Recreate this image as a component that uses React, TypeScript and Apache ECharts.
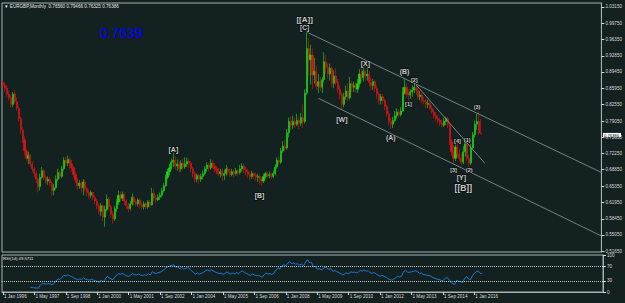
import React, { useEffect, useRef } from "react";
import * as echarts from "echarts";

// ---------- data ----------
const FIRST_OPEN = 0.872;
const CLOSE = [
  0.866, 0.86, 0.848, 0.84, 0.826, 0.848, 0.832, 0.818, 0.796, 0.772, 0.752, 0.728,
  0.712, 0.718, 0.7, 0.69, 0.68, 0.668, 0.652, 0.672, 0.686, 0.672, 0.664, 0.668,
  0.66, 0.644, 0.65, 0.668, 0.682, 0.674, 0.69, 0.708, 0.702, 0.71, 0.7, 0.692,
  0.678, 0.666, 0.654, 0.66, 0.65, 0.662, 0.648, 0.64, 0.634, 0.64, 0.63, 0.622,
  0.612, 0.6, 0.612, 0.588, 0.604, 0.626, 0.61, 0.594, 0.584, 0.606, 0.62, 0.634,
  0.628, 0.636, 0.622, 0.612, 0.606, 0.616, 0.63, 0.62, 0.616, 0.624, 0.614, 0.61,
  0.616, 0.61, 0.62, 0.614, 0.638, 0.628, 0.624, 0.63, 0.634, 0.644, 0.654, 0.672,
  0.684, 0.692, 0.704, 0.708, 0.696, 0.7, 0.69, 0.702, 0.694, 0.7, 0.706, 0.702,
  0.69, 0.68, 0.668, 0.676, 0.668, 0.674, 0.68, 0.69, 0.698, 0.692, 0.702, 0.696,
  0.69, 0.686, 0.68, 0.684, 0.676, 0.68, 0.69, 0.684, 0.678, 0.684, 0.68, 0.686,
  0.682, 0.69, 0.696, 0.688, 0.684, 0.678, 0.674, 0.68, 0.676, 0.672, 0.674, 0.668,
  0.664, 0.674, 0.68, 0.676, 0.678, 0.674, 0.68, 0.694, 0.708, 0.704, 0.728, 0.738,
  0.734, 0.766, 0.79, 0.782, 0.79, 0.784, 0.792, 0.786, 0.798, 0.79, 0.85, 0.944,
  0.92, 0.93, 0.888, 0.896, 0.864, 0.874, 0.862, 0.878, 0.916, 0.904, 0.89, 0.902,
  0.87, 0.886, 0.872, 0.858, 0.846, 0.826, 0.842, 0.854, 0.84, 0.87, 0.862, 0.866,
  0.858, 0.87, 0.89, 0.882, 0.896, 0.886, 0.89, 0.872, 0.866, 0.874, 0.86, 0.848,
  0.834, 0.842, 0.834, 0.822, 0.806, 0.79, 0.784, 0.792, 0.802, 0.81, 0.804, 0.812,
  0.85, 0.862, 0.848, 0.846, 0.852, 0.856, 0.862, 0.856, 0.842, 0.846, 0.834, 0.832,
  0.826, 0.828, 0.818, 0.81, 0.802, 0.796, 0.792, 0.786, 0.782, 0.79, 0.796, 0.784,
  0.748, 0.726, 0.712, 0.736, 0.722, 0.712, 0.704, 0.726, 0.744, 0.712, 0.702, 0.734,
  0.762, 0.784, 0.79, 0.7656, 0.76386,
];
const HIGH = [
  0.878, 0.872, 0.866, 0.856, 0.846, 0.852, 0.856, 0.84, 0.822, 0.8, 0.778, 0.758,
  0.732, 0.726, 0.722, 0.706, 0.694, 0.686, 0.672, 0.68, 0.694, 0.69, 0.676, 0.674,
  0.672, 0.664, 0.658, 0.676, 0.69, 0.688, 0.696, 0.714, 0.716, 0.718, 0.714, 0.708,
  0.696, 0.684, 0.67, 0.666, 0.664, 0.668, 0.666, 0.652, 0.646, 0.644, 0.642, 0.634,
  0.626, 0.616, 0.618, 0.614, 0.612, 0.636, 0.63, 0.614, 0.6, 0.612, 0.626, 0.644,
  0.642, 0.642, 0.64, 0.626, 0.618, 0.622, 0.638, 0.632, 0.626, 0.628, 0.628, 0.62,
  0.622, 0.62, 0.624, 0.624, 0.65, 0.646, 0.634, 0.636, 0.64, 0.65, 0.66, 0.678,
  0.69, 0.7, 0.712, 0.724, 0.716, 0.71, 0.706, 0.708, 0.712, 0.714, 0.714, 0.712,
  0.706, 0.694, 0.684, 0.68, 0.68, 0.68, 0.686, 0.696, 0.704, 0.702, 0.71, 0.708,
  0.702, 0.696, 0.692, 0.69, 0.69, 0.688, 0.698, 0.694, 0.69, 0.69, 0.688, 0.692,
  0.69, 0.698, 0.702, 0.7, 0.694, 0.69, 0.684, 0.686, 0.684, 0.682, 0.68, 0.678,
  0.672, 0.68, 0.684, 0.684, 0.684, 0.682, 0.686, 0.7, 0.714, 0.716, 0.734, 0.748,
  0.752, 0.774, 0.798, 0.8, 0.802, 0.798, 0.806, 0.8, 0.808, 0.826, 0.858, 0.978,
  0.966, 0.952, 0.944, 0.924, 0.908, 0.89, 0.884, 0.884, 0.936, 0.93, 0.912, 0.912,
  0.906, 0.898, 0.902, 0.88, 0.866, 0.852, 0.85, 0.866, 0.87, 0.884, 0.876, 0.874,
  0.872, 0.88, 0.9, 0.91, 0.906, 0.902, 0.908, 0.896, 0.884, 0.88, 0.878, 0.866,
  0.852, 0.848, 0.848, 0.838, 0.826, 0.812, 0.798, 0.8, 0.812, 0.818, 0.816, 0.82,
  0.862, 0.88, 0.87, 0.858, 0.858, 0.866, 0.874, 0.866, 0.862, 0.854, 0.852, 0.842,
  0.838, 0.836, 0.834, 0.824, 0.816, 0.81, 0.804, 0.798, 0.794, 0.798, 0.8, 0.8,
  0.786, 0.752, 0.74, 0.744, 0.746, 0.732, 0.722, 0.738, 0.75, 0.748, 0.718, 0.742,
  0.768, 0.792, 0.806, 0.812, 0.79466,
];
const LOW = [
  0.86, 0.852, 0.842, 0.834, 0.82, 0.82, 0.828, 0.812, 0.79, 0.764, 0.744, 0.718,
  0.706, 0.7, 0.694, 0.684, 0.672, 0.66, 0.64, 0.644, 0.668, 0.666, 0.658, 0.656,
  0.652, 0.632, 0.634, 0.646, 0.664, 0.668, 0.67, 0.686, 0.694, 0.696, 0.69, 0.684,
  0.672, 0.66, 0.646, 0.648, 0.64, 0.634, 0.642, 0.632, 0.626, 0.628, 0.624, 0.616,
  0.604, 0.594, 0.59, 0.58, 0.568, 0.6, 0.604, 0.586, 0.574, 0.58, 0.6, 0.614,
  0.62, 0.622, 0.614, 0.604, 0.598, 0.602, 0.612, 0.614, 0.61, 0.61, 0.606, 0.604,
  0.604, 0.604, 0.606, 0.608, 0.612, 0.622, 0.618, 0.622, 0.624, 0.63, 0.64, 0.652,
  0.668, 0.676, 0.688, 0.694, 0.688, 0.686, 0.682, 0.684, 0.688, 0.69, 0.694, 0.692,
  0.682, 0.67, 0.66, 0.662, 0.658, 0.662, 0.668, 0.676, 0.684, 0.684, 0.688, 0.69,
  0.682, 0.678, 0.674, 0.672, 0.664, 0.666, 0.676, 0.676, 0.672, 0.674, 0.672, 0.676,
  0.674, 0.678, 0.684, 0.68, 0.676, 0.67, 0.666, 0.668, 0.668, 0.664, 0.662, 0.656,
  0.654, 0.66, 0.668, 0.67, 0.67, 0.668, 0.67, 0.676, 0.69, 0.698, 0.7, 0.724,
  0.726, 0.73, 0.756, 0.772, 0.774, 0.776, 0.78, 0.774, 0.78, 0.776, 0.786, 0.846,
  0.886, 0.868, 0.858, 0.87, 0.856, 0.85, 0.854, 0.85, 0.872, 0.89, 0.88, 0.876,
  0.862, 0.86, 0.866, 0.85, 0.836, 0.814, 0.82, 0.836, 0.832, 0.836, 0.852, 0.852,
  0.85, 0.85, 0.862, 0.872, 0.874, 0.876, 0.876, 0.864, 0.856, 0.856, 0.852, 0.838,
  0.826, 0.826, 0.826, 0.814, 0.8, 0.78, 0.774, 0.776, 0.788, 0.796, 0.798, 0.8,
  0.81, 0.846, 0.84, 0.834, 0.838, 0.842, 0.85, 0.846, 0.836, 0.834, 0.828, 0.826,
  0.818, 0.818, 0.814, 0.806, 0.796, 0.79, 0.786, 0.78, 0.778, 0.778, 0.782, 0.776,
  0.74, 0.718, 0.702, 0.706, 0.714, 0.706, 0.698, 0.7, 0.716, 0.706, 0.694, 0.698,
  0.73, 0.756, 0.772, 0.762, 0.76325,
];

const SLOT_COUNT = 306; // monthly slots across the plot incl. right-hand empty space
const LABEL_EVERY = 16;
const DATE_TICK_LABELS = [
  "1 Jan 1996", "1 May 1997", "1 Sep 1998", "1 Jan 2000", "1 May 2001", "1 Sep 2002",
  "1 Jan 2004", "1 May 2005", "1 Sep 2006", "1 Jan 2008", "1 May 2009", "1 Sep 2010",
  "1 Jan 2012", "1 May 2013", "1 Sep 2014", "1 Jan 2016",
];
const PRICE_TICKS = [
  1.0315, 0.9975, 0.9635, 0.9285, 0.8945, 0.8595, 0.8255, 0.7905, 0.7565, 0.7225,
  0.6885, 0.6535, 0.6195, 0.5845, 0.5505, 0.5165,
];
const RSI_TICKS = [100, 70, 30, 0];
const RSI_LEVELS = [70, 30];
const RSI_PERIOD = 14;
const LAST_PRICE = 0.76386;

const CHANNEL_UPPER = [[155, 0.9787], [305.5, 0.6813]];
const CHANNEL_LOWER = [[160.7, 0.8388], [305.5, 0.5472]];
const TREND_INNER = [[210.9, 0.8668], [245.7, 0.7015]];

const WAVE_LABELS: [string, number, number, number][] = [
  ["[[A]]", 153.7, 1.0051, 8],
  ["[C]", 153.5, 0.9882, 6.5],
  ["[A]", 87.2, 0.7317, 7],
  ["[B]", 131.2, 0.6346, 7],
  ["[W]", 172.8, 0.793, 7],
  ["[X]", 184.5, 0.9122, 7],
  ["(A)", 197.5, 0.7571, 7],
  ["(B)", 204.6, 0.8943, 7],
  ["[2]", 209.7, 0.8774, 5.5],
  ["[1]", 206.7, 0.8257, 5.5],
  ["[4]", 231.9, 0.7497, 5.5],
  ["(1)", 236.5, 0.7518, 5.5],
  ["[3]", 229.6, 0.6885, 5.5],
  ["(2)", 237.8, 0.6885, 5.5],
  ["[Y]", 233.7, 0.6726, 7],
  ["[[B]]", 235, 0.6505, 8.5],
  ["(3)", 241.8, 0.8204, 5.5],
];

const TITLE = "\u25BC EURGBP,Monthly  0.76560 0.79466 0.76325 0.76386";
const BIG_PRICE = "0.7639";
const RSI_TITLE = "RSI(14) 49.5711";

// ---------- helpers ----------
function computeRsi(closes: number[], period: number): (number | null)[] {
  const out: (number | null)[] = closes.map(() => null);
  if (closes.length <= period) return out;
  let gain = 0;
  let loss = 0;
  for (let i = 1; i <= period; i++) {
    const d = closes[i] - closes[i - 1];
    if (d > 0) gain += d;
    else loss -= d;
  }
  let ag = gain / period;
  let al = loss / period;
  out[period] = al === 0 ? 100 : 100 - 100 / (1 + ag / al);
  for (let i = period + 1; i < closes.length; i++) {
    const d = closes[i] - closes[i - 1];
    ag = (ag * (period - 1) + Math.max(d, 0)) / period;
    al = (al * (period - 1) + Math.max(-d, 0)) / period;
    out[i] = al === 0 ? 100 : 100 - 100 / (1 + ag / al);
  }
  return out;
}

const BG = "#132121";
const FG = "#d8d8d8";
const BORDER = "#a8b0b0";
const BULL = "#12e212";
const BEAR = "#e41212";
const FONT = "Liberation Sans, Arial, sans-serif";

export default function App() {
  const ref = useRef<HTMLDivElement>(null);

  useEffect(() => {
    if (!ref.current) return;
    const chart = echarts.init(ref.current, null, { renderer: "svg" });

    const slots = Array.from({ length: SLOT_COUNT }, (_, i) => String(i));
    const candles = CLOSE.map((c, i) => {
      const open = i === 0 ? FIRST_OPEN : CLOSE[i - 1];
      const col = c >= open ? BULL : BEAR;
      return {
        value: [open, c, LOW[i], HIGH[i]],
        itemStyle: {
          color: col,
          color0: col,
          borderColor: col,
          borderColor0: col,
          borderColorDoji: col,
        },
      };
    });
    const rsi = computeRsi(CLOSE, RSI_PERIOD);
    const showDate = (i: number) =>
      i % LABEL_EVERY === 0 && i / LABEL_EVERY < DATE_TICK_LABELS.length;

    const lineStyle = { color: "#8e9a9a", width: 0.8 };

    const option: any = {
      animation: false,
      backgroundColor: BG,
      grid: [
        { left: 2, right: 22, top: 3, height: 249, show: true, borderColor: BORDER, borderWidth: 1 },
        { left: 2, right: 22, top: 255, height: 37, show: true, borderColor: BORDER, borderWidth: 1 },
      ],
      xAxis: [
        {
          type: "category",
          gridIndex: 0,
          data: slots,
          boundaryGap: true,
          axisLine: { show: false },
          axisTick: { show: false },
          axisLabel: { show: false },
          splitLine: { show: false },
        },
        {
          type: "category",
          gridIndex: 1,
          data: slots,
          boundaryGap: true,
          axisLine: { show: true, lineStyle: { color: BORDER } },
          axisTick: {
            show: true,
            alignWithLabel: true,
            interval: (i: number) => showDate(i),
            length: 3,
            lineStyle: { color: FG, width: 1 },
          },
          axisLabel: {
            show: true,
            interval: (i: number) => showDate(i),
            formatter: (_v: string, i: number) => DATE_TICK_LABELS[i / LABEL_EVERY] ?? "",
            align: "left",
            color: FG,
            fontSize: 4.6,
            fontFamily: FONT,
            margin: 2,
            padding: [0, 0, 0, 1],
          },
          splitLine: { show: false },
        },
      ],
      yAxis: [
        {
          type: "value",
          gridIndex: 0,
          position: "right",
          min: 0.5144,
          max: 1.0399,
          splitLine: { show: false },
          axisLine: { show: true, lineStyle: { color: BORDER } },
          axisTick: { show: true, customValues: PRICE_TICKS, length: 3, lineStyle: { color: FG } },
          axisLabel: {
            show: true,
            customValues: PRICE_TICKS,
            formatter: (v: number) => v.toFixed(5),
            color: FG,
            fontSize: 4.6,
            fontFamily: FONT,
            margin: 4,
          },
        },
        {
          type: "value",
          gridIndex: 1,
          position: "right",
          min: 0,
          max: 100,
          splitLine: { show: false },
          axisLine: { show: true, lineStyle: { color: BORDER } },
          axisTick: { show: true, customValues: RSI_TICKS, length: 3, lineStyle: { color: FG } },
          axisLabel: {
            show: true,
            customValues: RSI_TICKS,
            formatter: (v: number) => String(v),
            color: FG,
            fontSize: 4.6,
            fontFamily: FONT,
            margin: 4,
          },
        },
      ],
      series: [
        {
          type: "candlestick",
          xAxisIndex: 0,
          yAxisIndex: 0,
          data: candles,
          barWidth: 1.6,
          itemStyle: {
            color: BULL,
            color0: BEAR,
            borderColor: BULL,
            borderColor0: BEAR,
            borderWidth: 0.6,
          },
          markLine: {
            silent: true,
            symbol: ["none", "none"],
            lineStyle: { color: "rgba(0,0,0,0)", width: 0 },
            data: [{ yAxis: LAST_PRICE }],
            label: {
              show: true,
              position: "end",
              formatter: () => LAST_PRICE.toFixed(5),
              color: "#000",
              backgroundColor: "#ffffff",
              fontSize: 4.2,
              lineHeight: 4.2,
              fontFamily: FONT,
              padding: [0, 2, 0, 1],
              distance: 1.5,
              offset: [0, -0.6],
            },
          },
          z: 3,
        },
        {
          type: "line",
          xAxisIndex: 0,
          yAxisIndex: 0,
          data: CHANNEL_UPPER,
          showSymbol: false,
          lineStyle,
          z: 4,
        },
        {
          type: "line",
          xAxisIndex: 0,
          yAxisIndex: 0,
          data: CHANNEL_LOWER,
          showSymbol: false,
          lineStyle,
          z: 4,
        },
        {
          type: "line",
          xAxisIndex: 0,
          yAxisIndex: 0,
          data: TREND_INNER,
          showSymbol: false,
          lineStyle,
          z: 4,
        },
        {
          type: "scatter",
          xAxisIndex: 0,
          yAxisIndex: 0,
          symbolSize: 1,
          itemStyle: { color: "rgba(0,0,0,0)" },
          data: WAVE_LABELS.map(([name, x, y, size]) => ({
            name,
            value: [x, y],
            label: { fontSize: size },
          })),
          label: {
            show: true,
            position: "inside",
            formatter: "{b}",
            color: "#ffffff",
            fontWeight: "bold",
            fontFamily: FONT,
            textBorderColor: "#000000",
            textBorderWidth: 1,
          },
          z: 6,
        },
        {
          type: "line",
          xAxisIndex: 1,
          yAxisIndex: 1,
          data: rsi,
          showSymbol: false,
          lineStyle: { color: "#1e90ff", width: 0.8 },
          markLine: {
            silent: true,
            symbol: ["none", "none"],
            label: { show: false },
            lineStyle: { color: "#c8c8c8", type: "dotted", width: 1 },
            data: RSI_LEVELS.map((v) => ({ yAxis: v })),
          },
        },
      ],
      graphic: [
        {
          type: "text",
          left: 4,
          top: 3.5,
          style: { text: TITLE, fill: "#e8e8e8", fontSize: 4.6, fontFamily: FONT },
          z: 10,
        },
        {
          type: "text",
          left: 100,
          top: 26,
          style: { text: BIG_PRICE, fill: "#0000ff", fontSize: 14, fontFamily: FONT },
          z: 10,
        },
        {
          type: "text",
          left: 3,
          top: 256,
          style: { text: RSI_TITLE, fill: "#e8e8e8", fontSize: 4.2, fontFamily: FONT },
          z: 10,
        },
      ],
    };

    chart.setOption(option);
    return () => chart.dispose();
  }, []);

  return (
    <div
      ref={ref}
      style={{ position: "fixed", left: 0, top: 0, width: 625, height: 303, background: BG }}
    />
  );
}
